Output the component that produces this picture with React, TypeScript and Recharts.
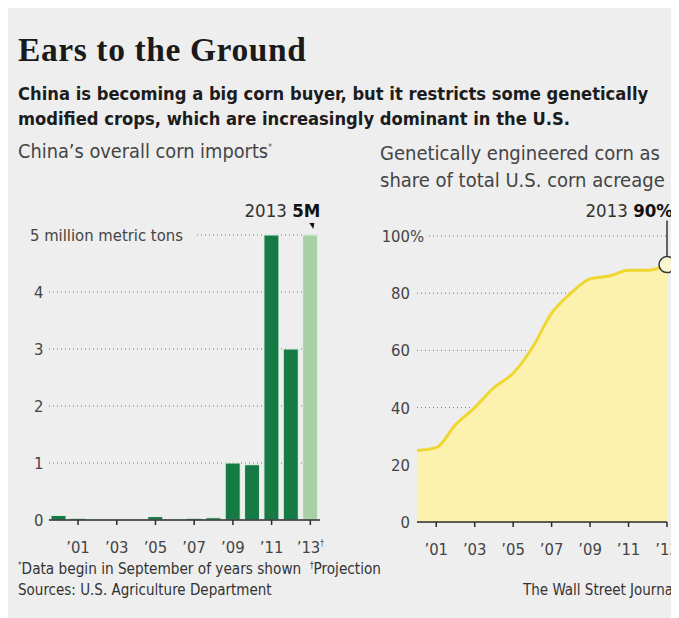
import React from 'react';
import {
  ComposedChart,
  Bar,
  Cell,
  XAxis,
  YAxis,
  CartesianGrid,
  AreaChart,
  Area,
  ReferenceDot
} from 'recharts';

const years = [2000, 2001, 2002, 2003, 2004, 2005, 2006, 2007, 2008, 2009, 2010, 2011, 2012, 2013];
// China corn imports, million metric tons (2013 is a projection)
const cornImports = [0.08, 0.03, 0.01, 0.01, 0.01, 0.06, 0.01, 0.03, 0.04, 1.0, 0.97, 5.0, 3.0, 5.0];
const projected = [false, false, false, false, false, false, false, false, false, false, false, false, false, true];
// GE corn share of U.S. corn acreage, %
const geShare = [25, 26, 34, 40, 47, 52, 61, 73, 80, 85, 86, 88, 88, 90];

const importTicks = [0, 1, 2, 3, 4, 5];
const shareTicks = [0, 20, 40, 60, 80, 100];
const yearTicks = [2001, 2003, 2005, 2007, 2009, 2011, 2013];

const importRows = years.map((y, i) => ({ year: y, imports: cornImports[i], proj: projected[i] }));
const shareRows = years.map((y, i) => ({ year: y, share: geShare[i] }));

const SANS = '"DejaVu Sans Condensed", "Liberation Sans", sans-serif';
const BG = '#eeeeee';
const DARK_GREEN = '#167a45';
const LIGHT_GREEN = '#a9cfa5';
const YELLOW = '#efd630';
const PALE_YELLOW = '#fcf1ad';
const AXIS = '#2b2b2b';
const LABEL = '#444';
const TICK_FS = 16.5;

const LEFT_AXIS_Y = 512;
const RIGHT_AXIS_Y = 514;

const yearLabel = (y: number) => `\u2019${String(y).slice(2)}`;

function ImportYTick(props: any) {
  const { y, payload } = props;
  const v = payload.value;
  if (v === 5) {
    return (
      <g>
        <rect x={20} y={y - 10} width={169} height={20} fill={BG} />
        <text x={22} y={y} dy={6} fontSize={TICK_FS} fill={LABEL} fontFamily={SANS}>
          5 million metric tons
        </text>
      </g>
    );
  }
  return (
    <text x={26} y={y} dy={6} fontSize={TICK_FS} fill={LABEL} fontFamily={SANS}>
      {v}
    </text>
  );
}

function YearTick(axisY: number, daggerYear: boolean) {
  return function Tick(props: any) {
    const { x, payload } = props;
    const v = payload.value;
    if (v % 2 === 0) return null;
    return (
      <g>
        <line x1={x} x2={x} y1={axisY} y2={axisY + 5} stroke={AXIS} strokeWidth={1.5} />
        <text x={x} y={axisY + 33} textAnchor="middle" fontSize={TICK_FS} fill={LABEL} fontFamily={SANS}>
          {yearLabel(v)}
          {daggerYear && v === 2013 ? <tspan fontSize={8} dy={-7}>{'\u2020'}</tspan> : null}
        </text>
      </g>
    );
  };
}

function ShareYTick(props: any) {
  const { y, payload } = props;
  const v = payload.value;
  return (
    <g>
      <text x={65} y={y} dy={6} textAnchor="end" fontSize={TICK_FS} fill={LABEL} fontFamily={SANS}>
        {v}
      </text>
      {v === 100 ? (
        <g>
          <rect x={66} y={y - 10} width={15} height={20} fill={BG} />
          <text x={65} y={y} dy={6} fontSize={TICK_FS} fill={LABEL} fontFamily={SANS}>
            %
          </text>
        </g>
      ) : null}
    </g>
  );
}

function ImportCallout(props: any) {
  const { cx, cy } = props;
  return (
    <g>
      <text x={cx + 10} y={cy - 18} textAnchor="end" fontSize={18.5} fill="#333" fontFamily={SANS}>
        2013 <tspan fontWeight="bold" fill="#111">5M</tspan>
      </text>
      <polygon points={`${cx - 1},${cy - 12} ${cx + 4},${cy - 12} ${cx + 3},${cy - 6}`} fill="#111" />
    </g>
  );
}

function ShareCallout(props: any) {
  const { cx, cy } = props;
  return (
    <g>
      <line x1={cx} x2={cx} y1={cy - 8} y2={cy - 44} stroke="#333" strokeWidth={1.5} />
      <circle cx={cx} cy={cy} r={8} fill="#fbf6d2" stroke="#333" strokeWidth={1.5} />
      <text x={cx + 6} y={cy - 48} textAnchor="end" fontSize={18.5} fill="#333" fontFamily={SANS}>
        2013 <tspan fontWeight="bold" fill="#111">90%</tspan>
      </text>
    </g>
  );
}

export default function App() {
  return (
    <div style={{ position: 'relative', width: 671, height: 610, background: BG, overflow: 'hidden', fontFamily: SANS }}>
      <div
        style={{
          position: 'absolute',
          left: 10,
          top: 23,
          fontFamily: '"Liberation Serif", "DejaVu Serif", serif',
          fontWeight: 'bold',
          fontSize: 33.5,
          color: '#1a1a1a',
          letterSpacing: 0.6
        }}
      >
        Ears to the Ground
      </div>
      <div
        style={{
          position: 'absolute',
          left: 10,
          top: 73,
          width: 660,
          fontWeight: 'bold',
          fontSize: 18.2,
          lineHeight: '25px',
          color: '#1c1c1c',
          whiteSpace: 'nowrap'
        }}
      >
        China is becoming a big corn buyer, but it restricts some genetically
        <br />
        modified crops, which are increasingly dominant in the U.S.
      </div>
      <div style={{ position: 'absolute', left: 10, top: 132, fontSize: 19.8, color: '#444' }}>
        China’s overall corn imports<sup style={{ fontSize: 8 }}>*</sup>
      </div>
      <div style={{ position: 'absolute', left: 372, top: 132, fontSize: 20, lineHeight: '27px', color: '#444' }}>
        Genetically engineered corn as
        <br />
        share of total U.S. corn acreage
      </div>

      <div style={{ position: 'absolute', left: 0, top: 0 }}>
        <ComposedChart
          width={330}
          height={570}
          data={importRows}
          margin={{ top: 227, right: 18, bottom: 18, left: 0 }}
          barCategoryGap={2}
        >
          <CartesianGrid vertical={false} stroke="#777" strokeDasharray="1 3" />
          <XAxis
            dataKey="year"
            interval={0}
            height={40}
            tickLine={false}
            axisLine={{ stroke: AXIS, strokeWidth: 1.5 }}
            tick={YearTick(LEFT_AXIS_Y, true)}
          />
          <YAxis
            width={41}
            domain={[0, 5]}
            ticks={importTicks}
            interval={0}
            axisLine={false}
            tickLine={false}
            tick={<ImportYTick />}
          />
          <Bar dataKey="imports" isAnimationActive={false} stroke="#e4f4e8" strokeWidth={1}>
            {importRows.map((r, i) => (
              <Cell key={i} fill={r.proj ? LIGHT_GREEN : DARK_GREEN} />
            ))}
          </Bar>
          <ReferenceDot x={2013} y={5} r={0} ifOverflow="visible" shape={<ImportCallout />} />
        </ComposedChart>
      </div>

      <div style={{ position: 'absolute', left: 337, top: 0 }}>
        <AreaChart
          width={334}
          height={570}
          data={shareRows}
          margin={{ top: 228, right: 12, bottom: 16, left: 0 }}
        >
          <CartesianGrid vertical={false} stroke="#777" strokeDasharray="1 3" />
          <XAxis
            dataKey="year"
            type="number"
            domain={[2000, 2013]}
            ticks={yearTicks}
            interval={0}
            height={40}
            tickLine={false}
            axisLine={{ stroke: AXIS, strokeWidth: 1.5 }}
            tick={YearTick(RIGHT_AXIS_Y, false)}
          />
          <YAxis
            width={72}
            domain={[0, 100]}
            ticks={shareTicks}
            interval={0}
            axisLine={false}
            tickLine={false}
            tick={<ShareYTick />}
          />
          <Area
            type="monotone"
            dataKey="share"
            stroke={YELLOW}
            strokeWidth={3}
            fill={PALE_YELLOW}
            fillOpacity={1}
            dot={false}
            activeDot={false}
            isAnimationActive={false}
          />
          <ReferenceDot x={2013} y={90} r={0} ifOverflow="visible" shape={<ShareCallout />} />
        </AreaChart>
      </div>

      <div style={{ position: 'absolute', left: 10, top: 552, fontSize: 15.2, color: '#333', whiteSpace: 'nowrap' }}>
        <sup style={{ fontSize: 8 }}>*</sup>Data begin in September of years shown&nbsp;&nbsp;
        <sup style={{ fontSize: 8 }}>†</sup>Projection
      </div>
      <div style={{ position: 'absolute', left: 10, top: 573, fontSize: 15, color: '#333' }}>
        Sources: U.S. Agriculture Department
      </div>
      <div style={{ position: 'absolute', left: 515, top: 573, fontSize: 15, color: '#333', whiteSpace: 'nowrap' }}>
        The Wall Street Journal
      </div>
    </div>
  );
}
